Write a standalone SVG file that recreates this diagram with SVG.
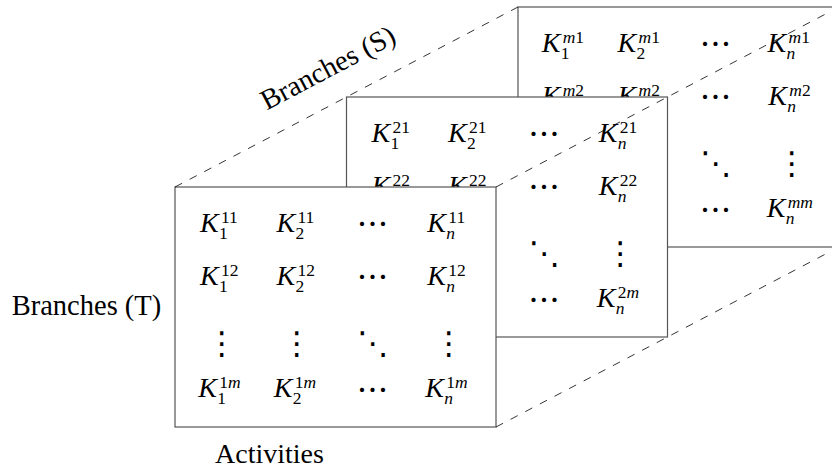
<svg xmlns="http://www.w3.org/2000/svg" width="832" height="470" viewBox="0 0 832 470">
<style>
  .box { fill: #fff; stroke: #555; stroke-width: 1.2; }
  .dash { fill: none; stroke: #000; stroke-width: 0.8; stroke-dasharray: 8 8.5; }
  text { font-family: "Liberation Serif", "Times New Roman", serif; fill: #000; }
  .lbl { font-size: 28.5px; }
  .e { font-size: 28px; }
  .K { font-style: italic; }
  .s { font-size: 17.5px; font-style: normal; }
  .i { font-style: italic; }
  .d { font-family: "Noto Sans CJK JP", "DejaVu Sans", sans-serif; font-size: 31.5px; }
</style>

<!-- Back matrix (m) -->
<g id="matrix-m" transform="translate(343,-180)">
  <rect class="box" x="175" y="187" width="321" height="240"/>
  <text class="e" x="198.7" y="232"><tspan class="K">K</tspan><tspan class="s" x="219.7" y="222.5"><tspan class="i">m</tspan>1</tspan><tspan class="s" x="217.7" y="239">1</tspan></text>
  <text class="e" x="274.5" y="232"><tspan class="K">K</tspan><tspan class="s" x="295.5" y="222.5"><tspan class="i">m</tspan>1</tspan><tspan class="s" x="293.5" y="239">2</tspan></text>
  <text class="d" x="372.5" y="235.5" text-anchor="middle">⋯</text>
  <text class="e" x="424.5" y="232"><tspan class="K">K</tspan><tspan class="s" x="445.5" y="222.5"><tspan class="i">m</tspan>1</tspan><tspan class="s i" x="443.5" y="239">n</tspan></text>
  <text class="e" x="198.7" y="285"><tspan class="K">K</tspan><tspan class="s" x="219.7" y="275.5"><tspan class="i">m</tspan>2</tspan><tspan class="s" x="217.7" y="292">1</tspan></text>
  <text class="e" x="274.5" y="285"><tspan class="K">K</tspan><tspan class="s" x="295.5" y="275.5"><tspan class="i">m</tspan>2</tspan><tspan class="s" x="293.5" y="292">2</tspan></text>
  <text class="d" x="372.5" y="289" text-anchor="middle">⋯</text>
  <text class="e" x="425.3" y="285"><tspan class="K">K</tspan><tspan class="s" x="446.3" y="275.5"><tspan class="i">m</tspan>2</tspan><tspan class="s i" x="444.3" y="292">n</tspan></text>
  <text class="d" x="372.8" y="353.5" text-anchor="middle">⋱</text>
  <text class="d" x="448.8" y="354" text-anchor="middle">⋮</text>
  <text class="d" x="372.5" y="401.5" text-anchor="middle">⋯</text>
  <text class="e" x="423.7" y="397"><tspan class="K">K</tspan><tspan class="s" x="444.7" y="387.5"><tspan class="i">mm</tspan></tspan><tspan class="s i" x="442.7" y="404">n</tspan></text>
</g>

<!-- Middle matrix (2) -->
<g id="matrix-2" transform="translate(171.5,-90)">
  <rect class="box" x="175" y="187" width="321" height="240"/>
  <text class="e" x="200" y="232"><tspan class="K">K</tspan><tspan class="s" x="221" y="222.5">21</tspan><tspan class="s" x="219" y="239">1</tspan></text>
  <text class="e" x="276.5" y="232"><tspan class="K">K</tspan><tspan class="s" x="297.5" y="222.5">21</tspan><tspan class="s" x="295.5" y="239">2</tspan></text>
  <text class="d" x="372.5" y="235.5" text-anchor="middle">⋯</text>
  <text class="e" x="427.3" y="232"><tspan class="K">K</tspan><tspan class="s" x="448.3" y="222.5">21</tspan><tspan class="s i" x="446.3" y="239">n</tspan></text>
  <text class="e" x="200" y="285"><tspan class="K">K</tspan><tspan class="s" x="221" y="275.5">22</tspan><tspan class="s" x="219" y="292">1</tspan></text>
  <text class="e" x="276.5" y="285"><tspan class="K">K</tspan><tspan class="s" x="297.5" y="275.5">22</tspan><tspan class="s" x="295.5" y="292">2</tspan></text>
  <text class="d" x="372.5" y="289" text-anchor="middle">⋯</text>
  <text class="e" x="427.3" y="285"><tspan class="K">K</tspan><tspan class="s" x="448.3" y="275.5">22</tspan><tspan class="s i" x="446.3" y="292">n</tspan></text>
  <text class="d" x="372.8" y="353.5" text-anchor="middle">⋱</text>
  <text class="d" x="448.8" y="354" text-anchor="middle">⋮</text>
  <text class="d" x="372.5" y="401.5" text-anchor="middle">⋯</text>
  <text class="e" x="425.3" y="397"><tspan class="K">K</tspan><tspan class="s" x="446.3" y="387.5">2<tspan class="i">m</tspan></tspan><tspan class="s i" x="444.3" y="404">n</tspan></text>
</g>

<!-- Front matrix (1) -->
<g id="matrix-1">
  <rect class="box" x="175" y="187" width="321" height="240"/>
  <text class="e" x="200" y="232"><tspan class="K">K</tspan><tspan class="s" x="221" y="222.5">11</tspan><tspan class="s" x="219" y="239">1</tspan></text>
  <text class="e" x="276.5" y="232"><tspan class="K">K</tspan><tspan class="s" x="297.5" y="222.5">11</tspan><tspan class="s" x="295.5" y="239">2</tspan></text>
  <text class="d" x="372.5" y="235.5" text-anchor="middle">⋯</text>
  <text class="e" x="427.3" y="232"><tspan class="K">K</tspan><tspan class="s" x="448.3" y="222.5">11</tspan><tspan class="s i" x="446.3" y="239">n</tspan></text>
  <text class="e" x="200" y="285"><tspan class="K">K</tspan><tspan class="s" x="221" y="275.5">12</tspan><tspan class="s" x="219" y="292">1</tspan></text>
  <text class="e" x="276.5" y="285"><tspan class="K">K</tspan><tspan class="s" x="297.5" y="275.5">12</tspan><tspan class="s" x="295.5" y="292">2</tspan></text>
  <text class="d" x="372.5" y="289" text-anchor="middle">⋯</text>
  <text class="e" x="427.3" y="285"><tspan class="K">K</tspan><tspan class="s" x="448.3" y="275.5">12</tspan><tspan class="s i" x="446.3" y="292">n</tspan></text>
  <text class="d" x="221.7" y="354" text-anchor="middle">⋮</text>
  <text class="d" x="296.7" y="354" text-anchor="middle">⋮</text>
  <text class="d" x="372.8" y="353.5" text-anchor="middle">⋱</text>
  <text class="d" x="448.8" y="354" text-anchor="middle">⋮</text>
  <text class="e" x="198.3" y="397"><tspan class="K">K</tspan><tspan class="s" x="219.3" y="387.5">1<tspan class="i">m</tspan></tspan><tspan class="s" x="217.3" y="404">1</tspan></text>
  <text class="e" x="273.8" y="397"><tspan class="K">K</tspan><tspan class="s" x="294.8" y="387.5">1<tspan class="i">m</tspan></tspan><tspan class="s" x="292.8" y="404">2</tspan></text>
  <text class="d" x="372.5" y="401.5" text-anchor="middle">⋯</text>
  <text class="e" x="425.2" y="397"><tspan class="K">K</tspan><tspan class="s" x="446.2" y="387.5">1<tspan class="i">m</tspan></tspan><tspan class="s i" x="444.2" y="404">n</tspan></text>
</g>

<!-- Connectors -->
<g id="connectors">
  <line class="dash" x1="175" y1="187" x2="518" y2="7"/>
  <line class="dash" x1="496" y1="187" x2="839" y2="7"/>
  <line class="dash" x1="496" y1="427" x2="839" y2="247"/>
</g>

<!-- Axis labels -->
<g id="labels">
  <text class="lbl" x="11.7" y="315">Branches (T)</text>
  <text class="lbl" x="215" y="462.5" style="font-size:28px">Activities</text>
  <text class="lbl" transform="translate(266.7,110.5) rotate(-27.7)">Branches (S)</text>
</g>
</svg>
